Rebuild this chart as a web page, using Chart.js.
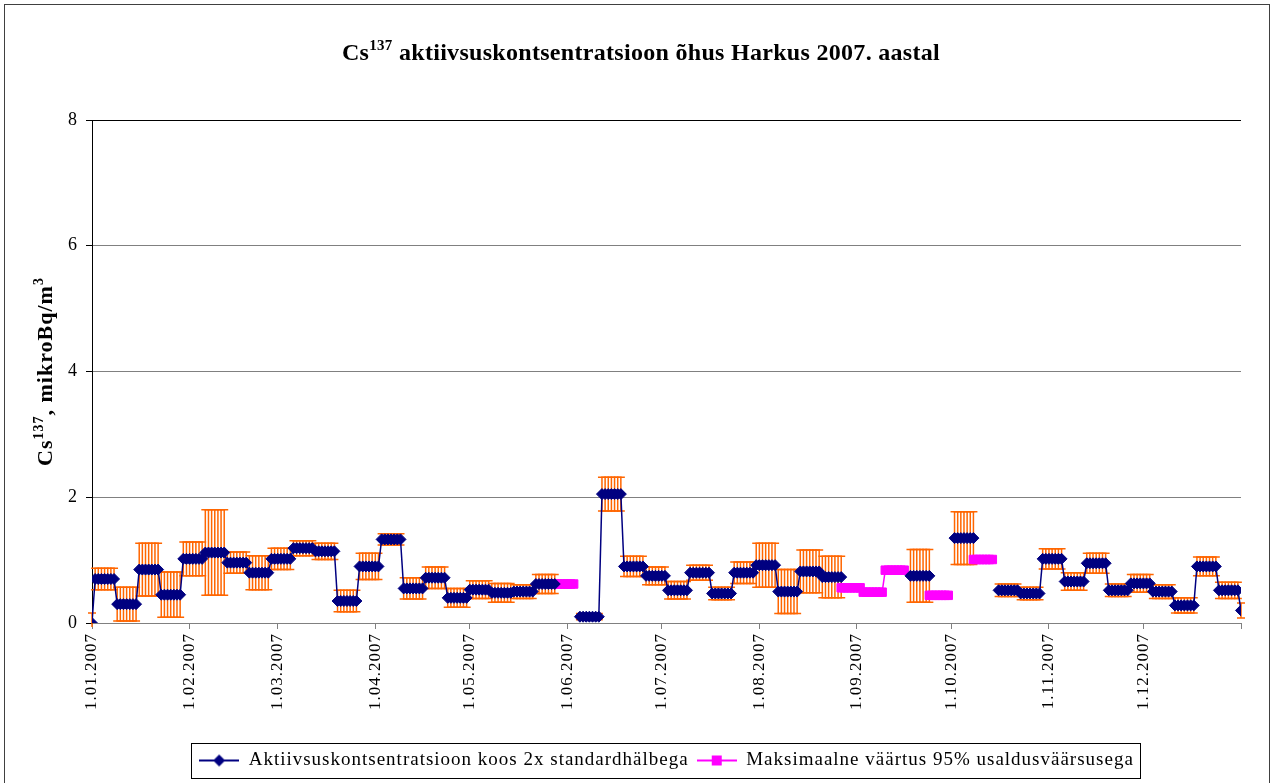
<!DOCTYPE html>
<html>
<head>
<meta charset="utf-8">
<script src="https://cdn.jsdelivr.net/npm/chart.js@4.4.1/dist/chart.umd.min.js"></script>
<style>
  html, body { margin: 0; padding: 0; background: #fff; }
  #divGrafico { width: 1272px; height: 783px; }
</style>
</head>
<body>
<div id="divGrafico"><canvas id="grafico" width="1272" height="783"></canvas></div>
<script>
// kuu alguse päevad (päeva nr aasta algusest) ja nende sildid
const tickDays = [0, 31, 59, 90, 120, 151, 181, 212, 243, 273, 304, 334, 365];
const tickLabels = ['1.01.2007', '1.02.2007', '1.03.2007', '1.04.2007', '1.05.2007', '1.06.2007',
  '1.07.2007', '1.08.2007', '1.09.2007', '1.10.2007', '1.11.2007', '1.12.2007', ''];

// nädalased väärtused (mikroBq/m3), null = alla määramispiiri
const weekValues = [0.70, 0.30, 0.85, 0.45, 1.02, 1.12, 0.96, 0.80, 1.02, 1.19,
  1.14, 0.35, 0.90, 1.33, 0.55, 0.72, 0.40, 0.53, 0.48, 0.50,
  0.62, null, 0.10, 2.05, 0.90, 0.75, 0.52, 0.80, 0.47, 0.80,
  0.92, 0.50, 0.82, 0.73, null, null, null, 0.75, null, 1.35,
  null, 0.52, 0.47, 1.02, 0.66, 0.95, 0.52, 0.63, 0.50, 0.28,
  0.90, 0.52];
// 2x standardhälve
const weekErrors = [0.17, 0.27, 0.42, 0.36, 0.27, 0.68, 0.17, 0.27, 0.17, 0.12,
  0.13, 0.17, 0.21, 0.09, 0.17, 0.17, 0.15, 0.14, 0.15, 0.11,
  0.15, null, 0.05, 0.27, 0.16, 0.14, 0.14, 0.12, 0.10, 0.17,
  0.35, 0.35, 0.34, 0.33, null, null, null, 0.42, null, 0.42,
  null, 0.10, 0.10, 0.16, 0.14, 0.16, 0.10, 0.14, 0.11, 0.12,
  0.15, 0.13];
// maksimaalne väärtus 95% usaldusväärsusega
const maxValues = [null, null, null, null, null, null, null, null, null, null,
  null, null, null, null, null, null, null, null, null, null,
  null, 0.62, null, null, null, null, null, null, null, null,
  null, null, null, null, 0.56, 0.49, 0.84, null, 0.44, null,
  1.01, null, null, null, null, null, null, null, null, null,
  null, null];
const startPoint = { day: 0, value: 0, error: 0.16 };
const endPoint = { day: 365, value: 0.2, error: 0.12 };

// päevased punktid nädalaväärtustest
const aktiivsus = [{ x: startPoint.day, y: startPoint.value }];
const vead = [startPoint.error];
weekValues.forEach((v, k) => {
  for (let d = 1; d <= 7; d++) {
    aktiivsus.push({ x: 7 * k + d, y: v });
    vead.push(weekErrors[k]);
  }
});
aktiivsus.push({ x: endPoint.day, y: endPoint.value });
vead.push(endPoint.error);

const maksimum = [];
maxValues.forEach((v, k) => {
  for (let d = 0; d < 7; d++) maksimum.push({ x: 7 * k + d, y: v });
});

const serif = '"Liberation Serif", "Times New Roman", serif';

function drawRich(ctx, parts, x, y, align) {
  let total = 0;
  parts.forEach(p => {
    ctx.font = `bold ${p.size}px ${serif}`;
    p.w = ctx.measureText(p.t).width;
    total += p.w;
  });
  let cx = align === 'center' ? x - total / 2 : x;
  parts.forEach(p => {
    ctx.font = `bold ${p.size}px ${serif}`;
    ctx.fillText(p.t, cx, y - (p.rise || 0));
    cx += p.w;
  });
}

// Excel'i hõredam tähevahe
const spacing = {
  id: 'spacing',
  beforeLayout(chart) { chart.ctx.letterSpacing = '1px'; },
  beforeDraw(chart) { chart.ctx.letterSpacing = '1px'; }
};

const errorBars = {
  id: 'errorBars',
  beforeDatasetsDraw(chart) {
    const { ctx, chartArea, scales: { x, y } } = chart;
    ctx.save();
    ctx.beginPath();
    ctx.rect(chartArea.left - 6, chartArea.top, chartArea.right - chartArea.left + 12, chartArea.bottom - chartArea.top + 4);
    ctx.clip();
    ctx.strokeStyle = '#FF6600';
    ctx.lineWidth = 1.5;
    aktiivsus.forEach((p, i) => {
      if (p.y === null || vead[i] === null) return;
      const px = x.getPixelForValue(p.x);
      const top = y.getPixelForValue(p.y + vead[i]);
      const bot = y.getPixelForValue(p.y - vead[i]);
      ctx.beginPath();
      ctx.moveTo(px, top); ctx.lineTo(px, bot);
      ctx.moveTo(px - 4, top); ctx.lineTo(px + 4, top);
      ctx.moveTo(px - 4, bot); ctx.lineTo(px + 4, bot);
      ctx.stroke();
    });
    ctx.restore();
  }
};

const texts = {
  id: 'texts',
  afterDraw(chart) {
    const { ctx, chartArea } = chart;
    ctx.save();
    ctx.fillStyle = '#000';
    ctx.textBaseline = 'alphabetic';
    ctx.textAlign = 'left';
    ctx.letterSpacing = '0.3px';
    drawRich(ctx, [
      { t: 'Cs', size: 24 },
      { t: '137', size: 15, rise: 10 },
      { t: ' aktiivsuskontsentratsioon õhus Harkus 2007. aastal', size: 24 }
    ], 641, 60, 'center');

    ctx.letterSpacing = '1px';
    ctx.translate(52, (chartArea.top + chartArea.bottom) / 2);
    ctx.rotate(-Math.PI / 2);
    drawRich(ctx, [
      { t: 'Cs', size: 22 },
      { t: '137', size: 14, rise: 9 },
      { t: ', mikroBq/m', size: 22 },
      { t: '3', size: 14, rise: 9 }
    ], 0, 0, 'center');
    ctx.restore();

    // legendi raam
    const boxes = chart.legend.legendHitBoxes;
    if (boxes && boxes.length) {
      const left = Math.min(...boxes.map(b => b.left)) - 8;
      const right = Math.max(...boxes.map(b => b.left + b.width)) + 6;
      ctx.save();
      ctx.strokeStyle = '#000';
      ctx.lineWidth = 1;
      ctx.strokeRect(Math.round(left) + 0.5, Math.round(chart.legend.top) + 0.5,
        Math.round(right - left), 35);
      ctx.restore();
    }
    // välimine raam
    ctx.save();
    ctx.strokeStyle = '#404040';
    ctx.lineWidth = 1;
    ctx.strokeRect(4.5, 4.5, 1265, 790);
    ctx.restore();
  }
};

function legendIcon(color, style) {
  const c = document.createElement('canvas');
  c.width = 40; c.height = 14;
  const g = c.getContext('2d');
  g.strokeStyle = color; g.fillStyle = color; g.lineWidth = 2;
  g.beginPath(); g.moveTo(0, 7); g.lineTo(40, 7); g.stroke();
  g.beginPath();
  if (style === 'diamond') {
    g.moveTo(14, 7); g.lineTo(20, 1); g.lineTo(26, 7); g.lineTo(20, 13);
  } else {
    g.rect(15, 2, 10, 10);
  }
  g.closePath(); g.fill();
  return c;
}
const legendIcons = [legendIcon('#000080', 'diamond'), legendIcon('#FF00FF', 'square')];

const config = {
  type: 'line',
  data: {
    datasets: [
      {
        label: 'Aktiivsuskontsentratsioon koos 2x standardhälbega',
        data: aktiivsus,
        borderColor: '#000080',
        backgroundColor: '#000080',
        borderWidth: 1.5,
        pointStyle: 'rectRot',
        pointRadius: 5.5,
        pointBorderWidth: 1,
        pointBorderColor: '#000080',
        pointBackgroundColor: '#000080',
        spanGaps: false
      },
      {
        label: 'Maksimaalne väärtus 95% usaldusväärsusega',
        data: maksimum,
        borderColor: '#FF00FF',
        backgroundColor: '#FF00FF',
        borderWidth: 1.5,
        pointStyle: 'rect',
        pointRadius: 6,
        pointBorderWidth: 1,
        pointBorderColor: '#FF00FF',
        pointBackgroundColor: '#FF00FF',
        spanGaps: false
      }
    ]
  },
  options: {
    responsive: false,
    animation: false,
    devicePixelRatio: 1,
    layout: { padding: { top: 120, left: 0, right: 31, bottom: 3 } },
    plugins: {
      title: { display: false },
      tooltip: { enabled: false },
      legend: {
        position: 'bottom',
        fullSize: false,
        labels: {
          usePointStyle: true,
          pointStyleWidth: 40,
          padding: 8,
          color: '#000',
          font: { family: serif, size: 19 },
          generateLabels(chart) {
            const items = Chart.defaults.plugins.legend.labels.generateLabels(chart);
            items.forEach((it, i) => { it.pointStyle = legendIcons[i]; });
            return items;
          }
        }
      }
    },
    scales: {
      x: {
        type: 'linear',
        min: 0,
        max: 365,
        afterFit(scale) { scale.height = 120; },
        afterBuildTicks(scale) { scale.ticks = tickDays.map(v => ({ value: v })); },
        ticks: {
          autoSkip: false,
          minRotation: 90,
          maxRotation: 90,
          padding: 4,
          color: '#000',
          font: { family: serif, size: 17 },
          callback: (v) => tickLabels[tickDays.indexOf(v)]
        },
        grid: { drawOnChartArea: false, tickLength: 6, color: '#808080', tickColor: '#808080' },
        border: { color: '#808080', width: 1 }
      },
      y: {
        min: 0,
        max: 8,
        afterFit(scale) { scale.width = 92; },
        ticks: { stepSize: 2, padding: 8, color: '#000', font: { family: serif, size: 18 } },
        grid: {
          tickLength: 6,
          color: (c) => (c.tick && c.tick.value === 8 ? '#000' : '#808080'),
          tickColor: '#000'
        },
        border: { color: '#000', width: 1 }
      }
    }
  },
  plugins: [spacing, errorBars, texts]
};

new Chart(document.getElementById('grafico'), config);
</script>
</body>
</html>
